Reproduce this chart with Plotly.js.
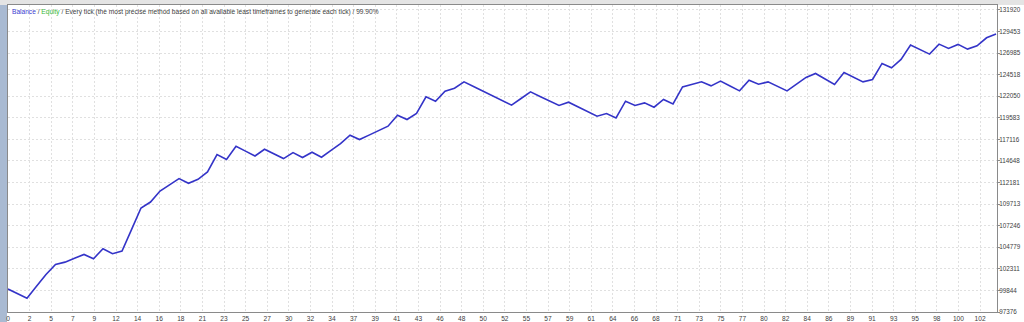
<!DOCTYPE html>
<html>
<head>
<meta charset="utf-8">
<script src="https://cdn.plot.ly/plotly-3.0.1.min.js"></script>
<style>
html,body{margin:0;padding:0;background:#ffffff;}
#chart{width:1024px;height:322px;}
</style>
</head>
<body>
<div id="chart"></div>
<script>
// Balance after each trade (trade 0 .. 104)
const balance = [
  100000, 99495, 98957, 100315, 101672, 102817, 103081, 103522, 103963, 103470,
  104616, 104043, 104341, 106804, 109266, 109954, 111214, 111924, 112634, 112096,
  112554, 113390, 115383, 114810, 116334, 115779, 115220, 115990, 115458, 114925,
  115612, 115040, 115647, 115074, 115859, 116643, 117594, 117102, 117610, 118117,
  118625, 119885, 119392, 120080, 121981, 121489, 122634, 122978, 123700, 123166,
  122632, 122098, 121565, 121031, 121793, 122554, 122035, 121515, 120996, 121374,
  120839, 120305, 119770, 120080, 119576, 121489, 120996, 121294, 120801, 121684,
  121180, 123127, 123414, 123700, 123241, 123780, 123225, 122669, 123894, 123436,
  123700, 123185, 122669, 123437, 124204, 124662, 124032, 123402, 124776, 124238,
  123700, 123974, 125807, 125303, 126266, 127904, 127389, 126873, 128018, 127526,
  127984, 127445, 127824, 128740, 129164
];
const trades = balance.map((_, i) => i);

// X-axis tick labels (as printed by the tester)
const xTickLabels = ["0","2","5","7","9","12","14","16","18","21","23","25","27","30","32","34",
  "37","39","41","43","46","48","50","52","55","57","59","61","64","66","68","71","73","75",
  "77","80","82","84","86","89","91","93","95","98","100","102"];

// Y-axis tick values
const yTicks = [97376, 99844, 102311, 104779, 107246, 109713, 112181, 114648,
  117116, 119583, 122050, 124518, 126985, 129453, 131920];

const titleParts = {
  balance: "Balance",
  equity: "Equity",
  rest: " / Every tick (the most precise method based on all available least timeframes to generate each tick) / 99.90%"
};

const xStep = 2.2737;
const xTickVals = xTickLabels.map((_, k) => k * xStep);

const FONT = "Liberation Sans, Arial, sans-serif";

const trace = {
  x: trades,
  y: balance,
  type: "scatter",
  mode: "lines",
  line: {color: "#3434c8", width: 1.6},
  hoverinfo: "skip"
};

const layout = {
  width: 1024,
  height: 322,
  margin: {l: 8, r: 27, t: 5, b: 10, pad: 0},
  paper_bgcolor: "#ffffff",
  plot_bgcolor: "#ffffff",
  showlegend: false,
  font: {family: FONT, size: 6.6, color: "#404040"},
  xaxis: {
    range: [0, 104.1],
    tickmode: "array",
    tickvals: xTickVals,
    ticktext: xTickLabels,
    ticks: "",
    showgrid: true,
    gridcolor: "#e0e0e0",
    griddash: "2px,2px",
    gridwidth: 1,
    zeroline: false,
    showline: true,
    linecolor: "#8a8a8a",
    linewidth: 1,
    mirror: true,
    tickfont: {family: FONT, size: 6.6, color: "#404040"},
    ticklabelstandoff: 0,
    fixedrange: true
  },
  yaxis: {
    side: "right",
    range: [97376, 132490],
    tickmode: "array",
    tickvals: yTicks,
    tickformat: "d",
    ticks: "outside",
    ticklen: 2,
    tickcolor: "#8a8a8a",
    showgrid: true,
    gridcolor: "#e0e0e0",
    griddash: "2px,2px",
    gridwidth: 1,
    zeroline: false,
    showline: true,
    linecolor: "#8a8a8a",
    linewidth: 1,
    mirror: true,
    tickfont: {family: FONT, size: 6.3, color: "#404040"},
    ticklabelstandoff: -2,
    fixedrange: true
  },
  annotations: [{
    xref: "paper", yref: "paper",
    x: 0, y: 1,
    xanchor: "left", yanchor: "top",
    xshift: 2, yshift: -1,
    showarrow: false,
    align: "left",
    font: {family: FONT, size: 6.6, color: "#404040"},
    text: '<span style="color:#3a3ad0">' + titleParts.balance + '</span> / ' +
          '<span style="color:#38b838">' + titleParts.equity + '</span>' + titleParts.rest
  }],
  shapes: [
    {type: "rect", xref: "paper", yref: "paper", x0: -8/989, x1: -1/989, y0: -0.05, y1: 1.02,
     fillcolor: "#a9bad2", line: {width: 0}, layer: "below"},
    {type: "rect", xref: "paper", yref: "paper", x0: -8/989, x1: 1.04, y0: 1.0, y1: 1.02,
     fillcolor: "#e4e4e4", line: {width: 0}, layer: "below"}
  ]
};

Plotly.newPlot("chart", [trace], layout, {staticPlot: true, displayModeBar: false});
</script>
</body>
</html>
